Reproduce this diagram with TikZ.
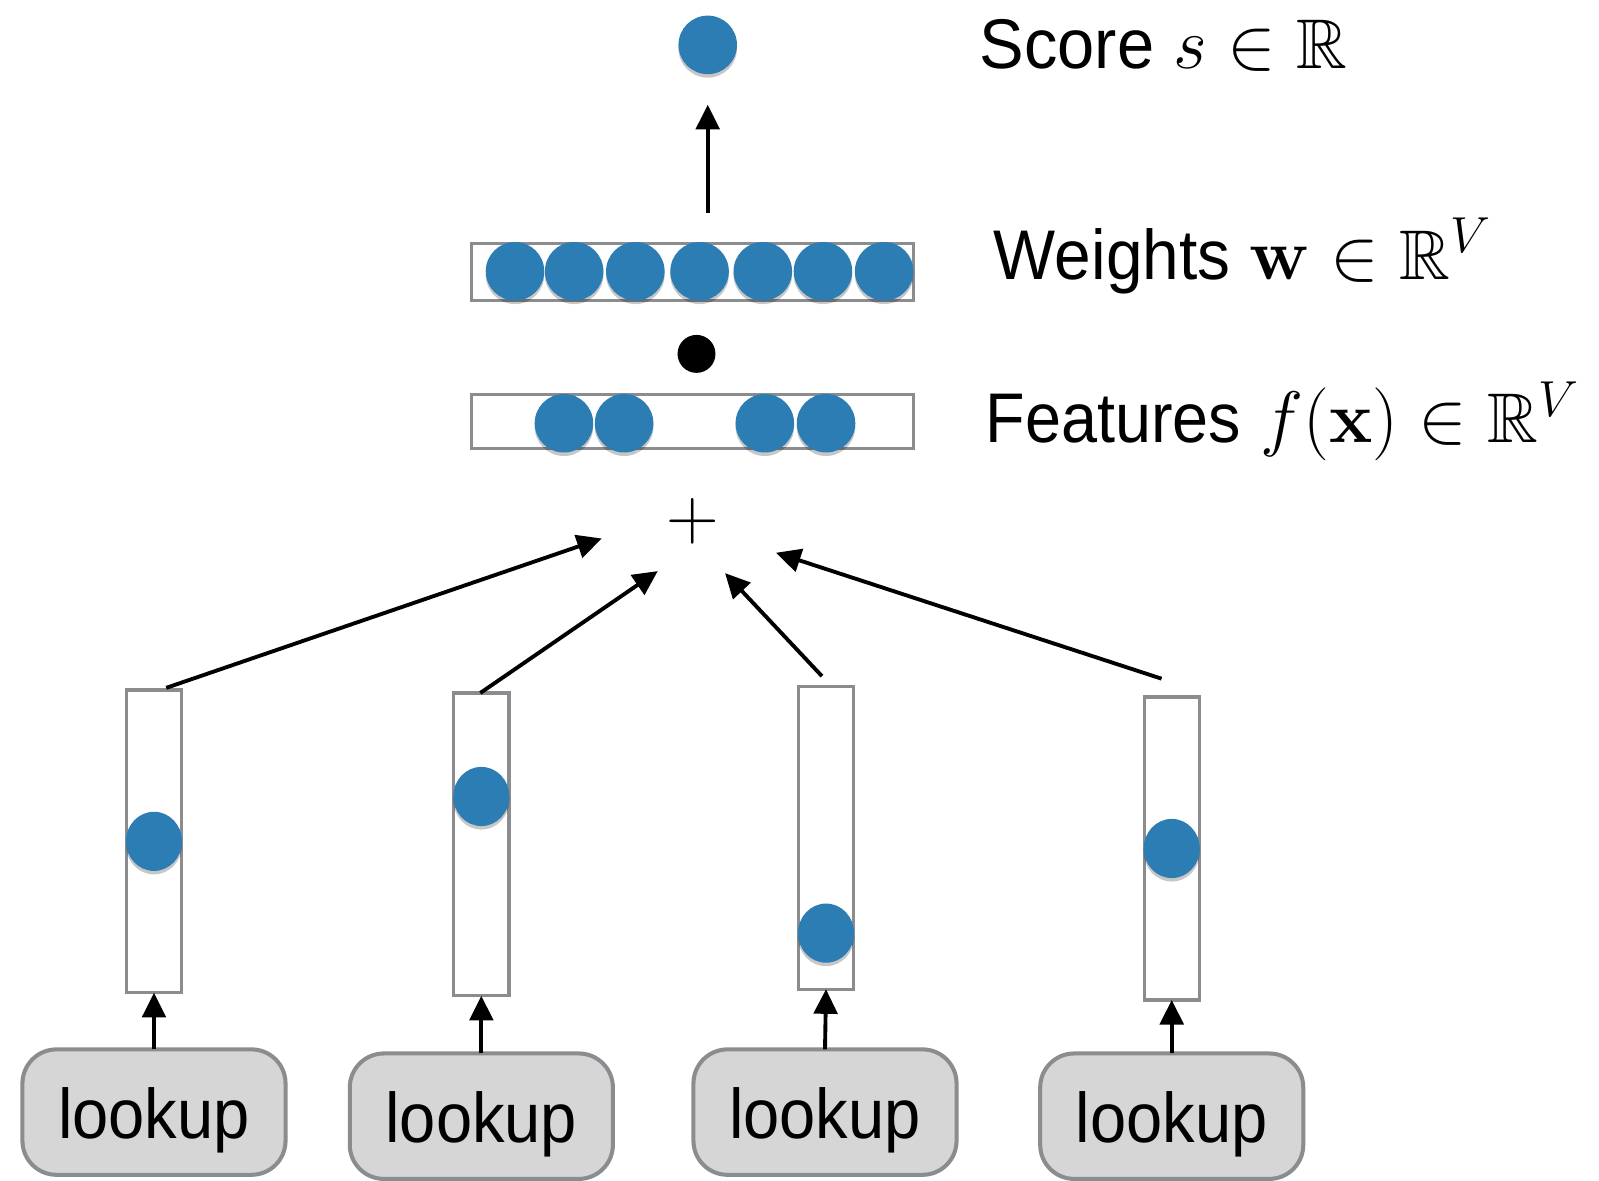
\documentclass[tikz,border=0pt]{standalone}
\usepackage[no-math]{fontspec}
\usepackage{amssymb}
\usepackage{graphicx}
\setmainfont{Liberation Sans}
\usetikzlibrary{arrows.meta,calc,shadows,shapes.geometric}

% one drawing unit
\newcommand{\upx}{0.0102cm}
% slightly narrowed sans words
\newcommand{\narrow}[2][0.93]{\scalebox{#1}[1]{#2}}

\definecolor{unitblue}{RGB}{44,125,180}
\definecolor{rimgray}{RGB}{138,140,143}
\definecolor{keyfill}{RGB}{214,214,214}

\tikzset{
  unitshadow/.style={drop shadow={shadow xshift=0pt,shadow yshift=-1pt,opacity=0.22,fill=black}},
  unit/.style={circle,fill=unitblue,minimum size=57.4*\upx,inner sep=0pt,outer sep=0pt,unitshadow},
  colunit/.style={ellipse,fill=unitblue,minimum width=55*\upx,minimum height=58*\upx,inner sep=0pt,outer sep=0pt,unitshadow},
  barbox/.style={rectangle,draw=rimgray,line width=0.93pt,fill=white,minimum width=433*\upx,inner sep=0pt,outer sep=0pt},
  colbox/.style={rectangle,draw=rimgray,line width=0.93pt,fill=white,minimum width=54*\upx,minimum height=297*\upx,inner sep=0pt,outer sep=0pt},
  keybox/.style={rectangle,rounded corners=0.34cm,draw=rimgray,line width=1.15pt,fill=keyfill,
    minimum width=258*\upx,minimum height=123*\upx,inner sep=0pt,outer sep=0pt,
    font=\fontsize{20pt}{24pt}\selectfont,text height=19pt,text depth=4.2pt},
  lbl/.style={anchor=base west,inner sep=0pt,font=\fontsize{20pt}{24pt}\selectfont},
  arr/.style={line width=1.1pt,-{Triangle[length=7pt,width=6.7pt]}}
}

\begin{document}
\begin{tikzpicture}[x=0.0102cm,y=-0.0102cm]
\useasboundingbox (0,0) rectangle (1568,1158);

% score unit
\node[unit] (score) at (694,44) {};

% weight vector
\node[barbox,minimum height=56*\upx] (wbox) at (679,266.5) {};
\foreach \xx [count=\i] in {505,563,623,686,748,807,867}
  \node[unit] (w\i) at (\xx,266) {};

% dot product
\node[circle,fill=black,minimum size=37.2*\upx,inner sep=0pt] (dotop) at (683,347) {};

% feature vector
\node[barbox,minimum height=52.5*\upx] (fbox) at (679,413.3) {};
\foreach \xx [count=\i] in {553,612,750,810}
  \node[unit] (f\i) at (\xx,415) {};

% sum
\node[inner sep=0pt,font=\fontsize{20.4pt}{24pt}\selectfont] (plus) at (679,511.5) {$+$};

% one-hot columns
\node[colbox] (v1) at (151,825) {};
\node[colbox] (v2) at (472,828) {};
\node[colbox] (v3) at (810,821.5) {};
\node[colbox] (v4) at (1149,832) {};
\node[colunit] (c1) at (151,825) {};
\node[colunit] (c2) at (472,781) {};
\node[colunit] (c3) at (810,915) {};
\node[colunit] (c4) at (1149,832) {};

% lookups
\node[keybox] (k1) at (151,1090.5) {\narrow[0.925]{lookup}};
\node[keybox] (k2) at (472,1094.5) {\narrow[0.925]{lookup}};
\node[keybox] (k3) at (809,1090.5) {\narrow[0.925]{lookup}};
\node[keybox] (k4) at (1149,1094.5) {\narrow[0.925]{lookup}};

% connectors
\foreach \i in {1,...,4}
  \draw[arr] (k\i.north) -- (v\i.south);
\draw[arr] ($(v1.north)+(12,-2)$) -- ($(plus)+(-89,16.5)$);
\draw[arr] ($(v2.north)+(-1,0)$) -- ($(plus)+(-34,48.5)$);
\draw[arr] ($(v3.north)+(-4,-10)$) -- ($(plus)+(32,50.5)$);
\draw[arr] ($(v4.north)+(-10,-18)$) -- ($(plus)+(82,30.5)$);
\draw[arr] ($(score.south |- wbox.north)+(0,-30)$) -- ($(score.south)+(0,30)$);

% labels
\node[lbl] (lscore) at (960,67) {\narrow[0.95]{Score} $s \in \mathbb{R}$};
\node[lbl] (lweights) at (974,274) {\narrow[0.935]{Weights} $\mathbf{w} \in \mathbb{R}^V$};
\node[lbl] (lfeatures) at (966,434) {\narrow[0.92]{Features} $f(\mathbf{x}) \in \mathbb{R}^V$};
\end{tikzpicture}
\end{document}
